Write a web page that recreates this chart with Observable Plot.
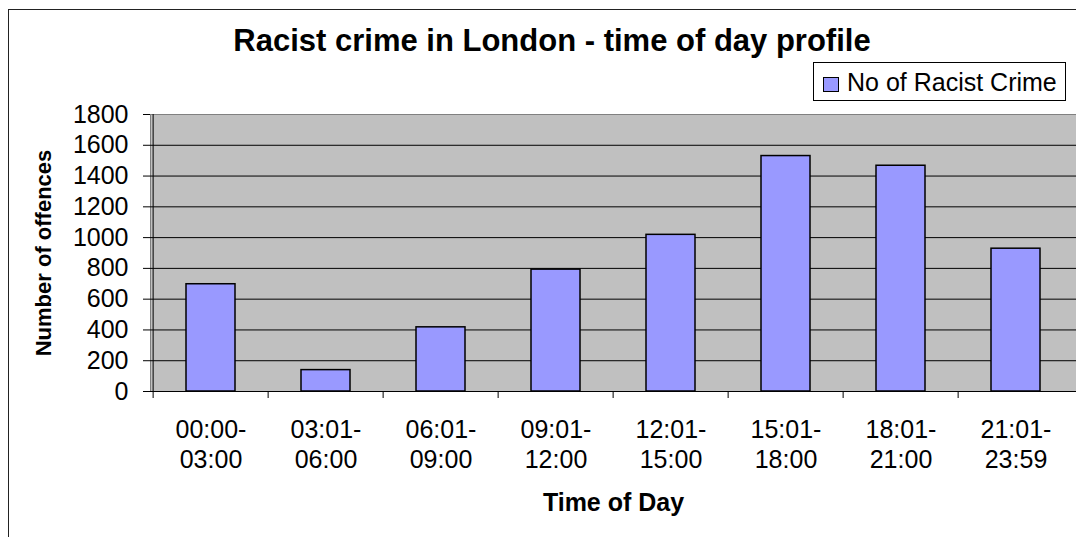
<!DOCTYPE html>
<html><head><meta charset="utf-8">
<script src="https://cdn.jsdelivr.net/npm/d3@7"></script>
<script src="https://cdn.jsdelivr.net/npm/@observablehq/plot@0.6"></script>
<style>
html,body{margin:0;padding:0;overflow:hidden;background:#fff;}
#wrap{position:relative;width:1076px;height:537px;overflow:hidden;font-family:"Liberation Sans",Arial,sans-serif;color:#000;}
#border{position:absolute;left:8px;top:9px;width:1200px;height:700px;border:1.5px solid #222;box-sizing:border-box;}
#title{position:absolute;left:0;width:1104px;top:24.7px;text-align:center;font-weight:bold;font-size:31px;line-height:31px;white-space:nowrap;}
#legend{position:absolute;left:813px;top:62px;width:253px;height:39px;border:1px solid #000;box-sizing:border-box;background:#fff;}
#swatch{position:absolute;left:823px;top:77px;width:16px;height:15px;background:#9999FF;border:1px solid #000;box-sizing:border-box;}
#legtext{position:absolute;left:847px;top:69.8px;font-size:25px;line-height:25px;white-space:nowrap;}
#chart{position:absolute;left:0;top:0;}
</style>
</head><body>
<div id="wrap">
  <div id="border"></div>
  <div id="chart"></div>
  <div id="title"></div>
  <div id="legend"></div>
  <div id="swatch"></div>
  <div id="legtext"></div>
</div>
<script>
const chartTitle = "Racist crime in London - time of day profile";
const seriesName = "No of Racist Crime";
const xTitle = "Time of Day";
const yTitle = "Number of offences";
const categories = ["00:00-03:00","03:01-06:00","06:01-09:00","09:01-12:00","12:01-15:00","15:01-18:00","18:01-21:00","21:01-23:59"];
const offences = [697, 139, 417, 792, 1018, 1530, 1467, 928];
const yTicks = [0, 200, 400, 600, 800, 1000, 1200, 1400, 1600, 1800];

document.getElementById("title").textContent = chartTitle;
document.getElementById("legtext").textContent = seriesName;

const data = categories.map((c, i) => ({period: c, count: offences[i]}));

const W = 1076, H = 537, mL = 150, mR = 0, mT = 114, mB = 146;
const step = (W - mL - mR) / categories.length;
const half = step / 2;
const font = "'Liberation Sans', Arial, sans-serif";

const chart = Plot.plot({
  width: W, height: H,
  marginTop: mT, marginBottom: mB, marginLeft: mL, marginRight: mR,
  style: {fontFamily: font, fontSize: "25px", color: "#000", background: "transparent", overflow: "visible"},
  x: {domain: categories, paddingInner: 0.577, paddingOuter: 0.2885},
  y: {domain: [0, 1800]},
  marks: [
    Plot.frame({fill: "#C0C0C0", stroke: "#808080"}),
    Plot.ruleY(yTicks.filter(v => v > 0 && v < 1800), {stroke: "#000", strokeWidth: 1}),
    Plot.barY(data, {x: "period", y: "count", fill: "#9999FF", stroke: "#000", strokeWidth: 1.5}),
    Plot.ruleY([0], {stroke: "#000", strokeWidth: 1}),
    Plot.ruleX([categories[0]], {dx: -half, stroke: "#000", strokeWidth: 1}),
    Plot.axisY({ticks: yTicks, tickSize: 7, tickPadding: 15, label: null, fontSize: 25, stroke: "#000",
      tickFormat: d => String(d)}),
    Plot.axisX({tickSize: 7, tickFormat: () => "", label: null, dx: -half, stroke: "#000"}),
    Plot.axisX({tickSize: 0, tickPadding: 25, lineHeight: 1.2, fontSize: 25, label: null,
      tickFormat: d => d.replace("-", "-\n")}),
    Plot.text([xTitle], {frameAnchor: "bottom", dy: 119, lineAnchor: "bottom", fontWeight: "bold", fontSize: 25}),
    Plot.text([yTitle], {frameAnchor: "left", textAnchor: "middle", rotate: -90, dx: -107, fontWeight: "bold", fontSize: 22})
  ]
});
document.getElementById("chart").appendChild(chart);
</script>
</body></html>
